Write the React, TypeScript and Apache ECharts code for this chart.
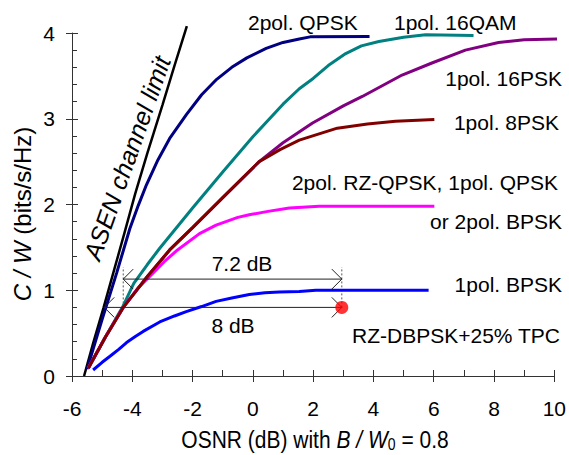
import React, { useEffect, useRef } from "react";
import * as echarts from "echarts";

const FONT = "Liberation Sans";

// x-axis (OSNR dB) and y-axis (C/W) settings
const xTicks = { min: -6, max: 10, interval: 2 };
const yTicks = { min: 0, max: 4, interval: 1 };

// ASEN channel limit
const asenX = [-5.6, -5.3, -4.95, -4.6, -4.25, -3.9, -3.5, -3.0, -2.6, -2.19];
const asenY = [0, 0.38, 0.8, 1.24, 1.68, 2.13, 2.6, 3.16, 3.62, 4.08];

// 2pol. QPSK
const qpsk2X = [-5.5, -5.0, -4.52, -4.3, -4.08, -3.8, -3.53, -3.15, -2.76, -2.2, -1.7, -1.2, -0.7, -0.2, 0.44, 1.0, 1.54, 1.9, 3.87];
const qpsk2Y = [0.08, 0.66, 1.2, 1.46, 1.72, 1.99, 2.23, 2.52, 2.77, 3.05, 3.28, 3.46, 3.6, 3.71, 3.82, 3.89, 3.93, 3.955, 3.96];

// 1pol. 16QAM
const qam16X = [-5.46, -4.9, -4.3, -3.95, -3.5, -3.09, -2.0, -1.0, 0.0, 1.0, 1.54, 2.0, 2.5, 3.08, 3.6, 4.18, 5.0, 5.73, 7.32];
const qam16Y = [0.09, 0.45, 0.82, 1.08, 1.3, 1.49, 1.96, 2.38, 2.79, 3.17, 3.35, 3.47, 3.62, 3.76, 3.85, 3.9, 3.95, 3.98, 3.97];

// 1pol. 16PSK
const psk16X = [-5.46, -4.9, -4.3, -3.5, -2.76, -2.0, -1.0, 0.21, 1.0, 1.98, 3.0, 3.63, 4.95, 5.94, 7.05, 8.15, 9.0, 10.1];
const psk16Y = [0.09, 0.45, 0.8, 1.16, 1.47, 1.73, 2.08, 2.5, 2.72, 2.95, 3.15, 3.26, 3.51, 3.65, 3.8, 3.89, 3.92, 3.93];

// 1pol. 8PSK
const psk8X = [-5.46, -4.9, -4.3, -3.5, -2.76, -2.0, -1.0, 0.21, 0.9, 1.54, 2.8, 3.8, 4.73, 6.02];
const psk8Y = [0.09, 0.45, 0.8, 1.16, 1.47, 1.73, 2.08, 2.5, 2.64, 2.75, 2.89, 2.94, 2.97, 2.99];

// 2pol. RZ-QPSK, 1pol. QPSK or 2pol. BPSK
const qpskX = [-5.46, -4.9, -4.3, -3.8, -3.42, -2.95, -2.5, -1.77, -1.22, -0.5, -0.12, 0.5, 1.21, 2.2, 6.02];
const qpskY = [0.09, 0.45, 0.8, 1.03, 1.16, 1.33, 1.47, 1.66, 1.76, 1.85, 1.88, 1.92, 1.96, 1.98, 1.98];

// 1pol. BPSK
const bpskX = [-5.3, -5.0, -4.74, -4.45, -4.19, -3.9, -3.64, -3.09, -2.6, -2.21, -1.7, -1.22, -0.7, -0.12, 0.4, 0.88, 1.54, 2.09, 5.83];
const bpskY = [0.07, 0.16, 0.23, 0.31, 0.39, 0.46, 0.52, 0.63, 0.7, 0.75, 0.81, 0.87, 0.91, 0.95, 0.97, 0.98, 0.985, 1.0, 1.0];

// RZ-DBPSK + 25% TPC measured point
const tpcPoint = [2.95, 0.8];

// dB-gap arrows: [from x, to x, at y]
const gapFromX = [-4.3, -4.93];
const gapToX = [2.95, 2.95];
const gapY = [1.13, 0.8];
const gapText = ["7.2 dB", "8 dB"];

// dotted guides: x, from y, to y
const guideX = [-4.3, 2.95];
const guideY1 = [0.8, 0.8];
const guideY2 = [1.27, 1.27];

const pairs = (xs: number[], ys: number[]) => xs.map((x, i) => [x, ys[i]]);

function curve(name: string, xs: number[], ys: number[], color: string, width = 3) {
  return {
    name,
    type: "line",
    data: pairs(xs, ys),
    symbol: "none",
    showSymbol: false,
    clip: false,
    lineStyle: { color, width },
    z: 3,
  };
}

function txt(text: string, x: number, y: number, align: string, size = 21, extra: any = {}) {
  return {
    type: "text",
    x,
    y,
    style: {
      text,
      fill: "#000",
      fontSize: size,
      fontFamily: FONT,
      textAlign: align,
      align,
      textVerticalAlign: "middle",
      verticalAlign: "middle",
      ...extra,
    },
    z: 10,
  };
}

export default function App() {
  const ref = useRef<HTMLDivElement>(null);
  useEffect(() => {
    const chart = echarts.init(ref.current!, null, { renderer: "svg" });
    const axisColor = "#333";
    const option: any = {
      animation: false,
      backgroundColor: "#fff",
      textStyle: { fontFamily: FONT },
      grid: { left: 72, right: 13, top: 33, bottom: 79 },
      xAxis: [
        {
          type: "value",
          ...xTicks,
          axisLine: { onZero: false, lineStyle: { color: axisColor, width: 1 } },
          axisTick: { inside: true, length: 6, lineStyle: { color: axisColor } },
          minorTick: { show: true, splitNumber: 2, length: 6, lineStyle: { color: axisColor } },
          splitLine: { show: false },
          axisLabel: { fontSize: 21, color: "#000", margin: 22, fontFamily: FONT },
        },
        {
          type: "value",
          ...xTicks,
          position: "bottom",
          axisLine: { show: false, onZero: false },
          axisTick: { inside: false, length: 6, lineStyle: { color: axisColor } },
          axisLabel: { show: false },
          splitLine: { show: false },
        },
      ],
      yAxis: [
        {
          type: "value",
          ...yTicks,
          axisLine: { show: true, onZero: false, lineStyle: { color: axisColor, width: 1 } },
          axisTick: { show: true, inside: true, length: 6, lineStyle: { color: axisColor } },
          minorTick: { show: true, splitNumber: 5, length: 5, lineStyle: { color: axisColor } },
          splitLine: { show: false },
          axisLabel: { fontSize: 21, color: "#000", margin: 17, fontFamily: FONT },
        },
        {
          type: "value",
          ...yTicks,
          position: "left",
          axisLine: { show: false, onZero: false },
          axisTick: { show: true, inside: false, length: 6, lineStyle: { color: axisColor } },
          axisLabel: { show: false },
          splitLine: { show: false },
        },
      ],
      series: [
        curve("ASEN", asenX, asenY, "#000000", 2.5),
        curve("2pol. QPSK", qpsk2X, qpsk2Y, "#000080"),
        curve("1pol. 16QAM", qam16X, qam16Y, "#008080"),
        curve("1pol. 16PSK", psk16X, psk16Y, "#800080"),
        curve("2pol. RZ-QPSK", qpskX, qpskY, "#ff00ff"),
        curve("1pol. 8PSK", psk8X, psk8Y, "#800000"),
        curve("1pol. BPSK", bpskX, bpskY, "#0000ff"),
        ...guideX.map((gx, i) => ({
          type: "line",
          data: [
            [gx, guideY1[i]],
            [gx, guideY2[i]],
          ],
          symbol: "none",
          clip: false,
          lineStyle: { color: "#555", width: 1, type: [2, 2] },
          z: 2,
        })),
        {
          type: "custom",
          coordinateSystem: "cartesian2d",
          data: gapY.map((y, i) => [gapFromX[i], gapToX[i], y]),
          encode: { x: [0, 1], y: 2 },
          clip: false,
          z: 4,
          renderItem: (params: any, api: any) => {
            const a = api.coord([api.value(0), api.value(2)]);
            const b = api.coord([api.value(1), api.value(2)]);
            const s = { stroke: "#222", lineWidth: 1, fill: "none" };
            const h = 10;
            return {
              type: "group",
              children: [
                { type: "line", shape: { x1: a[0], y1: a[1], x2: b[0], y2: b[1] }, style: s },
                {
                  type: "polyline",
                  shape: { points: [[a[0] + h, a[1] - h], a, [a[0] + h, a[1] + h]] },
                  style: s,
                },
                {
                  type: "polyline",
                  shape: { points: [[b[0] - h, b[1] - h], b, [b[0] - h, b[1] + h]] },
                  style: s,
                },
              ],
            };
          },
        },
        {
          type: "scatter",
          data: [tpcPoint],
          symbol: "circle",
          symbolSize: 13,
          itemStyle: { color: "#ff0000" },
          clip: false,
          z: 6,
        },
      ],
      graphic: [
        txt("2pol. QPSK", 248, 22, "left"),
        txt("1pol. 16QAM", 394, 22, "left"),
        txt("1pol. 16PSK", 562, 78, "right"),
        txt("1pol. 8PSK", 559, 122, "right"),
        txt("2pol. RZ-QPSK, 1pol. QPSK", 558, 182, "right"),
        txt("or 2pol. BPSK", 562, 221, "right"),
        txt("1pol. BPSK", 562, 284, "right"),
        txt("RZ-DBPSK+25% TPC", 560, 335, "right"),
        txt(gapText[0], 242, 263, "center"),
        txt(gapText[1], 233, 325, "center"),
        {
          ...txt("ASEN channel limit", 127, 158, "center", 25, { fontStyle: "italic" }),
          rotation: (70.5 * Math.PI) / 180,
        },
        {
          type: "text",
          x: 22,
          y: 214,
          rotation: Math.PI / 2,
          style: {
            text: "{i|C / W}{a| (bits/s/Hz)}",
            textAlign: "center",
            align: "center",
            textVerticalAlign: "middle",
            verticalAlign: "middle",
            fontSize: 24,
            fontFamily: FONT,
            fill: "#000",
            rich: {
              i: { fontSize: 24, fontFamily: FONT, fontStyle: "italic", fill: "#000" },
              a: { fontSize: 24, fontFamily: FONT, fill: "#000" },
            },
          },
        },
        {
          type: "text",
          x: 315,
          y: 440,
          scaleY: 1.12,
          style: {
            text: "{a|OSNR (dB) with }{i|B / W}{s|0}{a| = 0.8}",
            textAlign: "center",
            align: "center",
            textVerticalAlign: "middle",
            verticalAlign: "middle",
            fontSize: 21,
            fontFamily: FONT,
            fill: "#000",
            rich: {
              a: { fontSize: 21, fontFamily: FONT, fill: "#000", lineHeight: 22 },
              i: { fontSize: 21, fontFamily: FONT, fontStyle: "italic", fill: "#000", lineHeight: 22 },
              s: { fontSize: 14, fontFamily: FONT, fill: "#000", lineHeight: 14, verticalAlign: "bottom" },
            },
          },
        },
      ],
    };
    chart.setOption(option);
    return () => chart.dispose();
  }, []);
  return (
    <div
      ref={ref}
      style={{ position: "fixed", left: 0, top: 0, width: 569, height: 455, background: "#fff" }}
    />
  );
}
